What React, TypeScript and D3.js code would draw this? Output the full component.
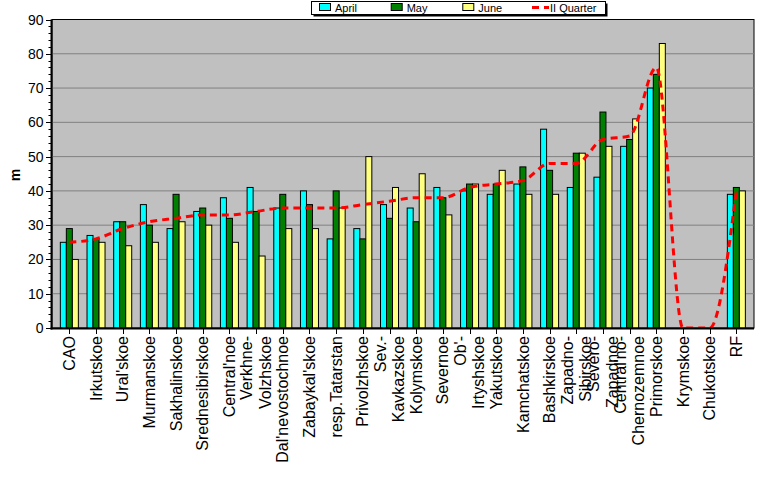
import * as d3 from "d3";
import React, { useRef, useEffect } from "react";

const categories = [
    "CAO", "Irkutskoe", "Ural'skoe", "Murmanskoe", "Sakhalinskoe", "Srednesibirskoe",
    "Central'noe", "Verkhne-Volzhskoe", "Dal'nevostochnoe", "Zabaykal'skoe", "resp.Tatarstan",
    "Privolzhskoe", "Sev.-Kavkazskoe", "Kolymskoe", "Severnoe", "Ob'-Irtyshskoe", "Yakutskoe",
    "Kamchatskoe", "Bashkirskoe", "Zapadno-Sibirskoe", "Severo-Zapadnoe",
    "Central'no-Chernozemnoe", "Primorskoe", "Krymskoe", "Chukotskoe", "RF",
];

// monthly values, null where a region has no bar
const april = [25, 27, 31, 36, 29, 34, 38, 41, 35, 40, 26, 29, 36, 35, 41, 40, 39, 42, 58, 41, 44, 53, 70, null, null, 39];
const may = [29, 26, 31, 30, 39, 35, 32, 34, 39, 36, 40, 26, 32, 31, 38, 42, 42, 47, 46, 51, 63, 55, 74, null, null, 41];
const june = [20, 25, 24, 25, 31, 30, 25, 21, 29, 29, 35, 50, 41, 45, 33, 42, 46, 39, 39, 51, 53, 61, 83, null, null, 40];
const quarter = [25, 26, 29, 31, 32, 33, 33, 34, 35, 35, 35, 36, 37, 38, 38, 41, 42, 43, 48, 48, 55, 56, 76, 0, 0, 40];

const seriesNames = ["April", "May", "June"];
const seriesColors = ["#00FFFF", "#008000", "#FFFF80"];
const yTicks = [0, 10, 20, 30, 40, 50, 60, 70, 80, 90];

const App = () => {
    const ref = useRef<HTMLDivElement>(null);

    useEffect(() => {
        const width = 777;
        const height = 479;
        const plotLeft = 52, plotRight = 754, plotTop = 19.5, plotBottom = 328;
        const font = "'Liberation Sans', Arial, sans-serif";

        const x = d3.scaleBand<string>()
            .domain(categories)
            .range([56, 749.7])
            .paddingInner(0.325)
            .paddingOuter(0.1625);

        const xs = d3.scaleBand<string>()
            .domain(seriesNames)
            .range([0, x.bandwidth()]);

        const y = d3.scaleLinear().domain([0, 90]).range([plotBottom, plotTop]);

        const svg = d3.create("svg")
            .attr("width", width)
            .attr("height", height)
            .attr("viewBox", `0 0 ${width} ${height}`)
            .style("position", "absolute")
            .style("left", "0")
            .style("top", "0")
            .style("background", "#fff")
            .attr("font-family", font);

        // plot area
        svg.append("rect")
            .attr("x", plotLeft).attr("y", plotTop)
            .attr("width", plotRight - plotLeft).attr("height", plotBottom - plotTop)
            .attr("fill", "#C0C0C0")
            .attr("stroke", "#000").attr("stroke-width", 1);

        // gridlines
        svg.append("g")
            .selectAll("line")
            .data(yTicks.filter(d => d > 0 && d < 90))
            .join("line")
            .attr("x1", plotLeft).attr("x2", plotRight)
            .attr("y1", d => y(d)).attr("y2", d => y(d))
            .attr("stroke", "#808080").attr("stroke-width", 1);

        // bars
        const series = [april, may, june];
        const bars = svg.append("g");
        series.forEach((values, si) => {
            bars.append("g")
                .selectAll("rect")
                .data(values.map((v, i) => ({ cat: categories[i], v })).filter(d => d.v !== null))
                .join("rect")
                .attr("x", d => (x(d.cat) as number) + (xs(seriesNames[si]) as number))
                .attr("y", d => y(d.v as number))
                .attr("width", xs.bandwidth())
                .attr("height", d => y(0) - y(d.v as number))
                .attr("fill", seriesColors[si])
                .attr("stroke", "#000")
                .attr("stroke-width", 1);
        });

        // II Quarter smoothed line
        svg.append("clipPath").attr("id", "plot-clip")
            .append("rect")
            .attr("x", plotLeft).attr("y", plotTop)
            .attr("width", plotRight - plotLeft).attr("height", plotBottom - plotTop);

        const line = d3.line<number>()
            .x((_, i) => (x(categories[i]) as number) + x.bandwidth() / 2)
            .y(d => y(d))
            .curve(d3.curveMonotoneX);

        svg.append("path")
            .attr("clip-path", "url(#plot-clip)")
            .attr("d", line(quarter))
            .attr("fill", "none")
            .attr("stroke", "#FF0000")
            .attr("stroke-width", 3)
            .attr("stroke-dasharray", "7,5");

        // axes
        svg.append("line")
            .attr("x1", plotLeft - 0.5).attr("x2", plotLeft - 0.5)
            .attr("y1", plotTop).attr("y2", plotBottom + 1.5)
            .attr("stroke", "#000").attr("stroke-width", 2);
        svg.append("line")
            .attr("x1", plotLeft - 1.5).attr("x2", plotRight)
            .attr("y1", plotBottom + 0.5).attr("y2", plotBottom + 0.5)
            .attr("stroke", "#000").attr("stroke-width", 2);

        // y ticks: major every 10, minor every 2
        svg.append("g")
            .selectAll("line")
            .data(d3.range(0, 91, 2).filter(d => d % 10 !== 0))
            .join("line")
            .attr("x1", plotLeft - 3.5).attr("x2", plotLeft - 1)
            .attr("y1", d => Math.round(y(d)) + 0.5).attr("y2", d => Math.round(y(d)) + 0.5)
            .attr("stroke", "#000");
        svg.append("g")
            .selectAll("line")
            .data(yTicks)
            .join("line")
            .attr("x1", plotLeft - 6).attr("x2", plotLeft - 1)
            .attr("y1", d => Math.round(y(d)) + 0.5).attr("y2", d => Math.round(y(d)) + 0.5)
            .attr("stroke", "#000");
        svg.append("g")
            .selectAll("text")
            .data(yTicks)
            .join("text")
            .attr("x", 43.5)
            .attr("y", d => y(d))
            .attr("dy", "0.36em")
            .attr("text-anchor", "end")
            .style("font-size", "14px")
            .text(d => d);

        svg.append("text")
            .attr("transform", "translate(20,175) rotate(-90)")
            .attr("text-anchor", "middle")
            .style("font-size", "14px")
            .style("font-weight", "bold")
            .text("m");

        // x ticks and rotated category labels
        const cx = (c: string) => (x(c) as number) + x.bandwidth() / 2;
        svg.append("g")
            .selectAll("line")
            .data(categories)
            .join("line")
            .attr("x1", d => Math.round(cx(d)) + 0.5).attr("x2", d => Math.round(cx(d)) + 0.5)
            .attr("y1", plotBottom + 1).attr("y2", plotBottom + 6)
            .attr("stroke", "#000");

        const labels = svg.append("g")
            .selectAll("text")
            .data(categories)
            .join("text")
            .attr("transform", d => `translate(${cx(d)},336) rotate(-90)`)
            .attr("text-anchor", "end")
            .style("font-size", "16px");
        labels.each(function (d) {
            const parts = d.split(/(?<=-)/);
            const sel = d3.select(this);
            parts.forEach((p, i) => {
                const off = parts.length === 1 ? 0 : (i === 0 ? -9.3 : 9);
                sel.append("tspan")
                    .attr("x", 0)
                    .attr("y", off)
                    .attr("dy", "0.35em")
                    .text(p);
            });
        });

        // legend
        const lg = svg.append("g");
        lg.append("rect")
            .attr("x", 313.5).attr("y", 3.5).attr("width", 294).attr("height", 13)
            .attr("fill", "#000");
        lg.append("rect")
            .attr("x", 311.5).attr("y", 1.5).attr("width", 294).attr("height", 13)
            .attr("fill", "#fff").attr("stroke", "#000");
        const itemX = [319, 390.7, 462.3];
        seriesNames.forEach((name, i) => {
            lg.append("rect")
                .attr("x", itemX[i] + 0.5).attr("y", 3.5).attr("width", 11).attr("height", 7)
                .attr("fill", seriesColors[i]).attr("stroke", "#000");
            lg.append("text")
                .attr("x", itemX[i] + 16).attr("y", 11.5)
                .style("font-size", "11px")
                .text(name);
        });
        lg.append("line")
            .attr("x1", 532).attr("x2", 549)
            .attr("y1", 7.5).attr("y2", 7.5)
            .attr("stroke", "#FF0000").attr("stroke-width", 3)
            .attr("stroke-dasharray", "7,5");
        lg.append("text")
            .attr("x", 550).attr("y", 11.5)
            .style("font-size", "11px")
            .text("II Quarter");

        if (ref.current) {
            ref.current.innerHTML = "";
            ref.current.appendChild(svg.node() as SVGSVGElement);
        }
    }, []);

    return <div ref={ref}></div>;
};

export default App;
